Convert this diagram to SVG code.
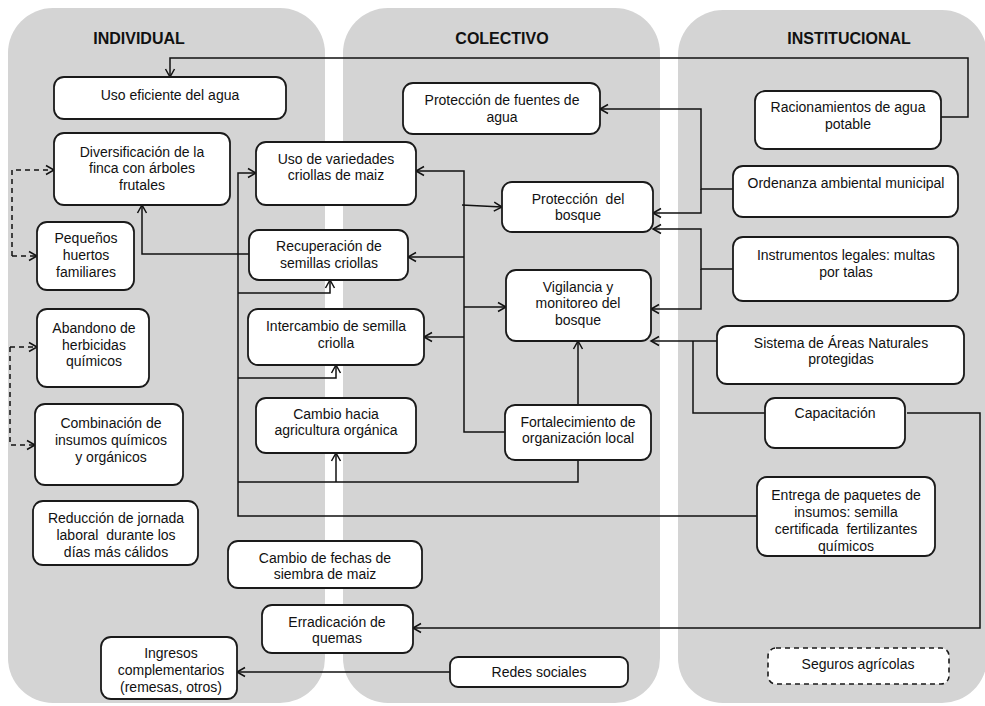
<svg xmlns="http://www.w3.org/2000/svg" width="985" height="706" viewBox="0 0 985 706">
<style>
.panel{fill:#d4d4d4;stroke:none}
.title{font-family:"Liberation Sans",Arial,sans-serif;font-size:16px;font-weight:bold;fill:#111;text-anchor:middle}
.box{fill:#fff;stroke:#1a1a1a;stroke-width:1.8}
.dbox{fill:#fff;stroke:#1a1a1a;stroke-width:1.6;stroke-dasharray:5,4}
.t{font-family:"Liberation Sans",Arial,sans-serif;font-size:14px;fill:#111;text-anchor:middle}
.c{fill:none;stroke:#111;stroke-width:1.5}
.d{fill:none;stroke:#111;stroke-width:1.5;stroke-dasharray:5,4}
</style>
<defs>
<marker id="a" markerWidth="12" markerHeight="12" refX="10" refY="6" orient="auto" markerUnits="userSpaceOnUse">
<path d="M2,1.5 L10,6 L2,10.5" fill="none" stroke="#111" stroke-width="1.5"/>
</marker>
</defs>
<rect width="985" height="706" fill="#fff"/>
<g id="panels">
<rect class="panel" x="8" y="8" width="317" height="695" rx="45"/>
<rect class="panel" x="343" y="8" width="317" height="695" rx="45"/>
<rect class="panel" x="678" y="10" width="309" height="693" rx="45"/>
<text class="title" x="139" y="44">INDIVIDUAL</text>
<text class="title" x="502" y="44">COLECTIVO</text>
<text class="title" x="849" y="44">INSTITUCIONAL</text>
</g>
<g id="connectors">
<path class="c" d="M941,117 H968 V58 H170 V77" marker-end="url(#a)"/>
<path class="c" d="M733,189 H701 V109 H600" marker-end="url(#a)"/>
<path class="c" d="M701,189 V213 H653" marker-end="url(#a)"/>
<path class="c" d="M733,269 H701 V229 H653" marker-end="url(#a)"/>
<path class="c" d="M701,269 V309 H651" marker-end="url(#a)"/>
<path class="c" d="M717,341 H651" marker-end="url(#a)"/>
<path class="c" d="M693,341 V413 H765"/>
<path class="c" d="M907,413 H980 V628 H413" marker-end="url(#a)"/>
<path class="c" d="M757,516 H238 V173 H256" marker-end="url(#a)"/>
<path class="c" d="M238,293 H330 V280" marker-end="url(#a)"/>
<path class="c" d="M238,378 H336 V365" marker-end="url(#a)"/>
<path class="c" d="M578,460 V482 H238"/>
<path class="c" d="M336,482 V453" marker-end="url(#a)"/>
<path class="c" d="M578,405 V341" marker-end="url(#a)"/>
<path class="c" d="M505,432 H464 V171 H416" marker-end="url(#a)"/>
<path class="c" d="M464,257 H408" marker-end="url(#a)"/>
<path class="c" d="M464,337 H424" marker-end="url(#a)"/>
<path class="c" d="M462,205 L502,207" marker-end="url(#a)"/>
<path class="c" d="M464,307 H506" marker-end="url(#a)"/>
<path class="c" d="M249,254 H142 V205" marker-end="url(#a)"/>
<path class="c" d="M450,672 H237" marker-end="url(#a)"/>
<path class="d" d="M12,256 V170 H54" marker-end="url(#a)"/>
<path class="d" d="M12,256 H37" marker-end="url(#a)"/>
<path class="d" d="M10,347 V445 H35" marker-end="url(#a)"/>
<path class="d" d="M10,347 H37" marker-end="url(#a)"/>
</g>
<g id="n1"><rect class="box" x="54" y="77" width="232" height="42" rx="10"/><text class="t" x="170" y="100">Uso eficiente del agua</text></g>
<g id="n2"><rect class="box" x="54" y="133" width="176" height="72" rx="10"/><text class="t" x="142" y="157">Diversificación de la</text><text class="t" x="142" y="173">finca con árboles</text><text class="t" x="142" y="190">frutales</text></g>
<g id="n3"><rect class="box" x="37" y="222" width="97" height="68" rx="10"/><text class="t" x="86" y="243">Pequeños</text><text class="t" x="86" y="260">huertos</text><text class="t" x="86" y="277">familiares</text></g>
<g id="n4"><rect class="box" x="37" y="309" width="112" height="78" rx="10"/><text class="t" x="94" y="333">Abandono de</text><text class="t" x="94" y="350">herbicidas</text><text class="t" x="94" y="366">químicos</text></g>
<g id="n5"><rect class="box" x="35" y="404" width="148" height="81" rx="10"/><text class="t" x="111" y="428">Combinación de</text><text class="t" x="111" y="445">insumos químicos</text><text class="t" x="111" y="462">y orgánicos</text></g>
<g id="n6"><rect class="box" x="33" y="501" width="165" height="64" rx="10"/><text class="t" x="116" y="523">Reducción de jornada</text><text class="t" x="116" y="540" xml:space="preserve">laboral  durante los</text><text class="t" x="116" y="557">días más cálidos</text></g>
<g id="n7"><rect class="box" x="101" y="637" width="136" height="62" rx="10"/><text class="t" x="171" y="658">Ingresos</text><text class="t" x="171" y="675">complementarios</text><text class="t" x="171" y="692">(remesas, otros)</text></g>
<g id="n8"><rect class="box" x="256" y="142" width="160" height="63" rx="10"/><text class="t" x="336" y="164">Uso de variedades</text><text class="t" x="336" y="180">criollas de maiz</text></g>
<g id="n9"><rect class="box" x="249" y="230" width="159" height="50" rx="10"/><text class="t" x="329" y="251">Recuperación de</text><text class="t" x="329" y="268">semillas criollas</text></g>
<g id="n10"><rect class="box" x="248" y="309" width="176" height="56" rx="10"/><text class="t" x="336" y="331">Intercambio de semilla</text><text class="t" x="336" y="348">criolla</text></g>
<g id="n11"><rect class="box" x="256" y="398" width="160" height="55" rx="10"/><text class="t" x="336" y="419">Cambio hacia</text><text class="t" x="336" y="435">agricultura orgánica</text></g>
<g id="n12"><rect class="box" x="228" y="541" width="194" height="47" rx="10"/><text class="t" x="325" y="563">Cambio de fechas de</text><text class="t" x="325" y="579">siembra de maiz</text></g>
<g id="n13"><rect class="box" x="262" y="605" width="151" height="48" rx="10"/><text class="t" x="337" y="627">Erradicación de</text><text class="t" x="337" y="643">quemas</text></g>
<g id="n14"><rect class="box" x="450" y="657" width="178" height="30" rx="8"/><text class="t" x="539" y="677">Redes sociales</text></g>
<g id="n15"><rect class="box" x="403" y="83" width="197" height="51" rx="10"/><text class="t" x="502" y="105">Protección de fuentes de</text><text class="t" x="502" y="122">agua</text></g>
<g id="n16"><rect class="box" x="502" y="182" width="151" height="50" rx="10"/><text class="t" x="578" y="204" xml:space="preserve">Protección  del</text><text class="t" x="578" y="220">bosque</text></g>
<g id="n17"><rect class="box" x="506" y="270" width="145" height="71" rx="10"/><text class="t" x="578" y="292">Vigilancia y</text><text class="t" x="578" y="308">monitoreo del</text><text class="t" x="578" y="325">bosque</text></g>
<g id="n18"><rect class="box" x="505" y="405" width="146" height="55" rx="10"/><text class="t" x="578" y="427">Fortalecimiento de</text><text class="t" x="578" y="443">organización local</text></g>
<g id="n19"><rect class="box" x="755" y="91" width="186" height="58" rx="10"/><text class="t" x="848" y="112">Racionamientos de agua</text><text class="t" x="848" y="129">potable</text></g>
<g id="n20"><rect class="box" x="733" y="166" width="225" height="51" rx="10"/><text class="t" x="846" y="188">Ordenanza ambiental municipal</text></g>
<g id="n21"><rect class="box" x="733" y="237" width="225" height="64" rx="10"/><text class="t" x="846" y="260">Instrumentos legales: multas</text><text class="t" x="846" y="277">por talas</text></g>
<g id="n22"><rect class="box" x="717" y="326" width="247" height="58" rx="10"/><text class="t" x="841" y="348">Sistema de Áreas Naturales</text><text class="t" x="841" y="364">protegidas</text></g>
<g id="n23"><rect class="box" x="765" y="398" width="140" height="50" rx="10"/><text class="t" x="835" y="418">Capacitación</text></g>
<g id="n24"><rect class="box" x="757" y="477" width="178" height="79" rx="10"/><text class="t" x="846" y="500">Entrega de paquetes de</text><text class="t" x="846" y="517">insumos: semilla</text><text class="t" x="846" y="534" xml:space="preserve">certificada  fertilizantes</text><text class="t" x="846" y="551">químicos</text></g>
<g id="n25"><rect class="dbox" x="768" y="648" width="181" height="36" rx="8"/><text class="t" x="858" y="669">Seguros agrícolas</text></g>
</svg>
